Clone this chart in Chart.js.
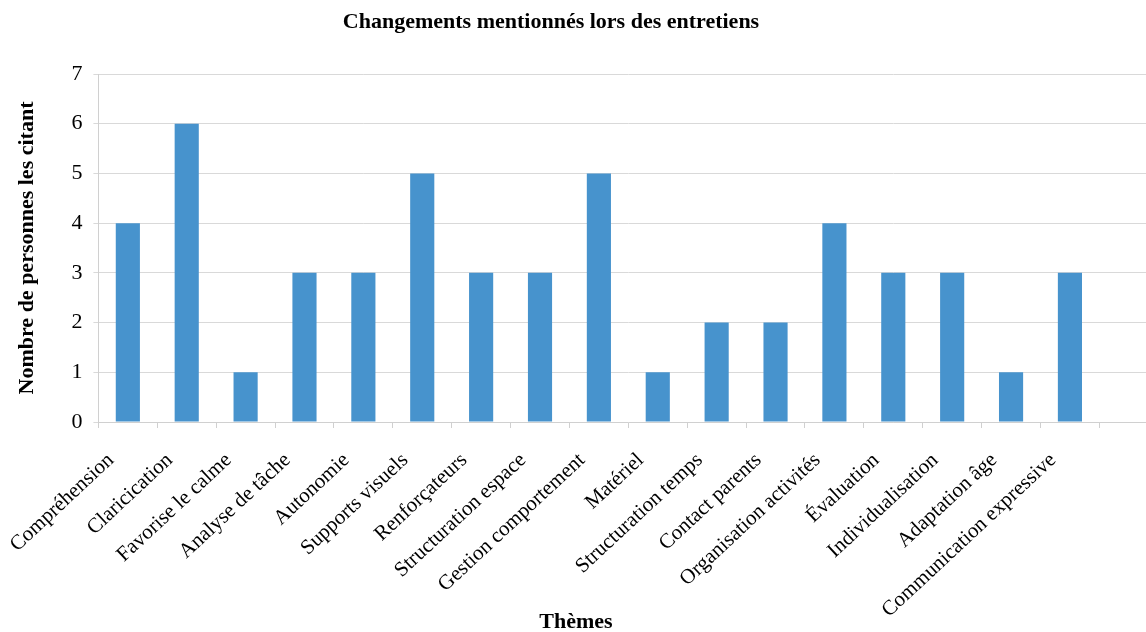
<!DOCTYPE html>
<html lang="fr">
<head>
  <meta charset="UTF-8">
  <script src="https://cdn.jsdelivr.net/npm/chart.js"></script>
  <title>Changements mentionnés</title>
  <style>
    html, body { margin: 0; padding: 0; background: #fff; overflow: hidden; }
    #wrap { width: 1166px; height: 632px; }
  </style>
</head>
<body>
  <div id="wrap"><canvas id="barchart" width="1166" height="632"></canvas></div>
  <script>
    // données
    const themes = [
      'Compréhension', 'Claricication', 'Favorise le calme', 'Analyse de tâche',
      'Autonomie', 'Supports visuels', 'Renforçateurs', 'Structuration espace',
      'Gestion comportement', 'Matériel', 'Structuration temps', 'Contact parents',
      'Organisation activités', 'Évaluation', 'Individualisation', 'Adaptation âge',
      'Communication expressive'
    ];
    const nbPersonnes = [4, 6, 1, 3, 3, 5, 3, 3, 5, 1, 2, 2, 4, 3, 3, 1, 3];
    const yTicks = [0, 1, 2, 3, 4, 5, 6, 7];

    const titre = 'Changements mentionnés lors des entretiens';
    const titreX = 'Thèmes';
    const titreY = 'Nombre de personnes les citant';

    const serif = '"Liberation Serif", "Times New Roman", serif';

    // titres placés comme dans l'original (pas centrés sur la zone)
    const titresPlugin = {
      id: 'titres',
      afterDraw(chart) {
        const ctx = chart.ctx;
        ctx.save();
        ctx.fillStyle = '#000';
        ctx.textAlign = 'center';
        ctx.textBaseline = 'middle';
        ctx.font = 'bold 22px ' + serif;
        ctx.fillText(titre, 551, 22);
        ctx.fillText(titreX, 576, 622);
        ctx.restore();
      }
    };

    // une case vide à la fin, comme dans l'original
    const labels = themes.concat(['']);
    const values = nbPersonnes.concat([null]);

    new Chart(document.getElementById('barchart'), {
      type: 'bar',
      data: {
        labels: labels,
        datasets: [{
          data: values,
          backgroundColor: '#4793cd',
          barPercentage: 0.41,
          categoryPercentage: 1
        }]
      },
      options: {
        responsive: false,
        animation: false,
        layout: { padding: { top: 74, bottom: 0, left: 10, right: 0 } },
        plugins: {
          legend: { display: false },
          title: { display: false },
          tooltip: { enabled: false }
        },
        scales: {
          x: {
            offset: true,
            afterFit(scale) { scale.height = 210; },
            grid: {
              offset: true,
              drawOnChartArea: false,
              color: '#d0d0d0',
              tickLength: 6
            },
            border: { color: '#d0d0d0' },
            ticks: {
              minRotation: 43,
              maxRotation: 43,
              autoSkip: false,
              color: '#000',
              padding: 20,
              labelOffset: -17,
              font: { family: serif, size: 21 }
            }
          },
          y: {
            min: 0,
            max: 7,
            afterBuildTicks(axis) { axis.ticks = yTicks.map(v => ({ value: v })); },
            grid: { color: '#d9d9d9', tickLength: 5 },
            border: { color: '#d0d0d0' },
            ticks: {
              color: '#000',
              padding: 11,
              font: { family: serif, size: 22 }
            },
            title: {
              display: true,
              text: titreY,
              color: '#000',
              padding: { top: 4, bottom: 20 },
              font: { family: serif, size: 22, weight: 'bold' }
            }
          }
        }
      },
      plugins: [titresPlugin]
    });
  </script>
</body>
</html>
